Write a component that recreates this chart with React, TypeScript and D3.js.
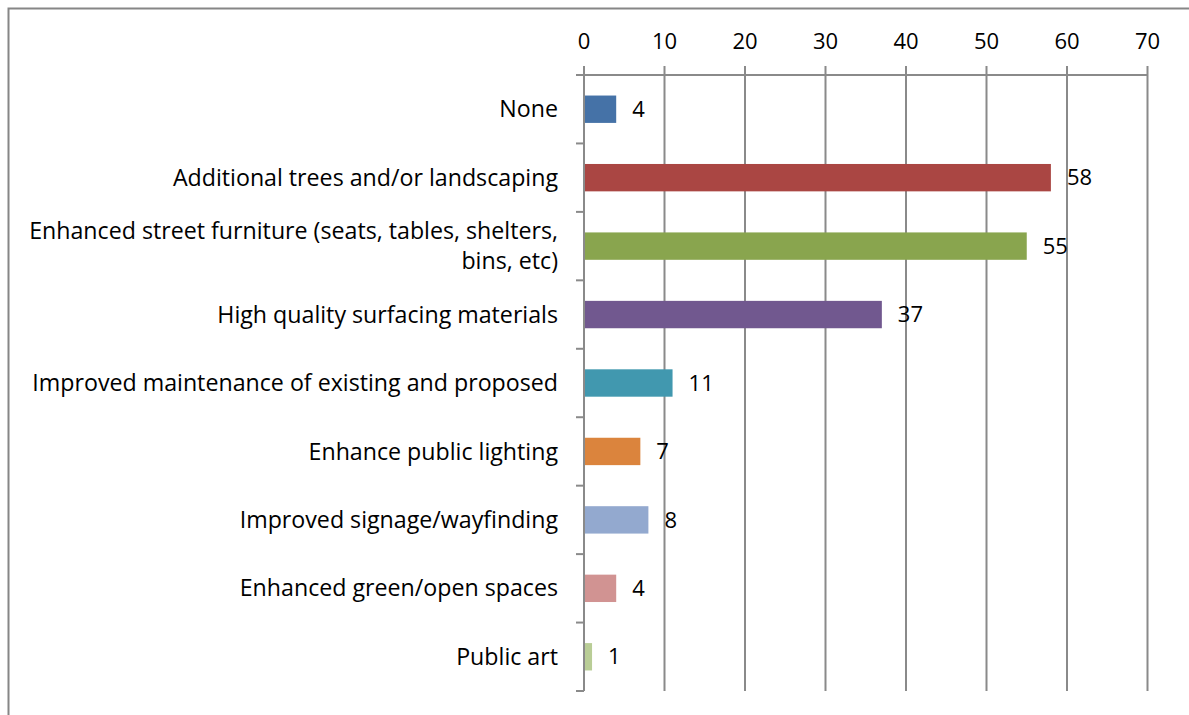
import * as d3 from "d3";
import React, { useRef, useEffect } from "react";

const categories = [
  "None",
  "Additional trees and/or landscaping",
  "Enhanced street furniture (seats, tables, shelters,|bins, etc)",
  "High quality surfacing materials",
  "Improved maintenance of existing and proposed",
  "Enhance public lighting",
  "Improved signage/wayfinding",
  "Enhanced green/open spaces",
  "Public art",
];
const values = [4, 58, 55, 37, 11, 7, 8, 4, 1];
const colors = [
  "#4572a7",
  "#aa4643",
  "#89a54e",
  "#71588f",
  "#4198af",
  "#db843d",
  "#93a9cf",
  "#d19392",
  "#b9cd96",
];
const xTicks = [0, 10, 20, 30, 40, 50, 60, 70];

const W = 1189;
const H = 715;
const FONT = "'Open Sans', sans-serif";
const FS = 22; // numbers
const LFS = 23.2; // category labels
const LINE = "#8a8a8a";

function App() {
  const ref = useRef<any>(null);

  useEffect(() => {
    const svg = d3.select(ref.current);
    svg.selectAll("*").remove();

    // chart frame (only left and top visible in the crop)
    svg
      .append("path")
      .attr("d", `M8.5,${H} L8.5,8.5 L${W},8.5`)
      .attr("fill", "none")
      .attr("stroke", "#868686")
      .attr("stroke-width", 2);

    const x = d3.scaleLinear().domain([0, 70]).range([584, 1147.5]);
    const y = d3
      .scaleBand()
      .domain(categories)
      .range([75, 691])
      .paddingInner(0.6)
      .paddingOuter(0.3);
    const step = y.step();

    const g = svg.append("g");

    // gridlines + tick marks above axis
    xTicks.forEach((t) => {
      g.append("line")
        .attr("x1", x(t))
        .attr("x2", x(t))
        .attr("y1", 66)
        .attr("y2", 691)
        .attr("stroke", LINE)
        .attr("stroke-width", 2);
      g.append("text")
        .attr("x", x(t))
        .attr("y", 49)
        .attr("text-anchor", "middle")
        .attr("font-family", FONT)
        .attr("font-size", FS)
        .attr("fill", "#000")
        .text(t);
    });

    // top axis line
    g.append("line")
      .attr("x1", 576)
      .attr("x2", x(70))
      .attr("y1", 75)
      .attr("y2", 75)
      .attr("stroke", LINE)
      .attr("stroke-width", 2);

    // category boundary ticks
    d3.range(categories.length + 1).forEach((i) => {
      const yy = 75 + i * step;
      g.append("line")
        .attr("x1", 576)
        .attr("x2", 584)
        .attr("y1", yy)
        .attr("y2", yy)
        .attr("stroke", LINE)
        .attr("stroke-width", 2);
    });

    // bars
    g.selectAll("rect.bar")
      .data(values)
      .enter()
      .append("rect")
      .attr("class", "bar")
      .attr("x", x(0))
      .attr("y", (d, i) => y(categories[i]) as number)
      .attr("width", (d) => x(d) - x(0))
      .attr("height", y.bandwidth())
      .attr("fill", (d, i) => colors[i]);

    // value labels
    g.selectAll("text.val")
      .data(values)
      .enter()
      .append("text")
      .attr("class", "val")
      .attr("x", (d) => x(d) + 16)
      .attr("y", (d, i) => (y(categories[i]) as number) + y.bandwidth() / 2)
      .attr("dy", "0.35em")
      .attr("font-family", FONT)
      .attr("font-size", FS)
      .attr("fill", "#000")
      .text((d) => d);

    // category labels
    categories.forEach((c, i) => {
      const lines = c.split("|");
      const cy = (y(c) as number) + y.bandwidth() / 2;
      const lh = 30;
      const t = g
        .append("text")
        .attr("text-anchor", "end")
        .attr("font-family", FONT)
        .attr("font-size", LFS)
        .attr("fill", "#000");
      lines.forEach((ln, j) => {
        t.append("tspan")
          .attr("x", 558)
          .attr("y", cy + (j - (lines.length - 1) / 2) * lh)
          .attr("dy", "0.35em")
          .text(ln);
      });
    });

    // left axis line
    g.append("line")
      .attr("x1", x(0))
      .attr("x2", x(0))
      .attr("y1", 66)
      .attr("y2", 691)
      .attr("stroke", LINE)
      .attr("stroke-width", 2);
  }, []);

  return (
    <div style={{ position: "absolute", left: 0, top: 0 }}>
      <svg ref={ref} width={W} height={H} style={{ display: "block", background: "#fff" }}></svg>
    </div>
  );
}

export default App;
